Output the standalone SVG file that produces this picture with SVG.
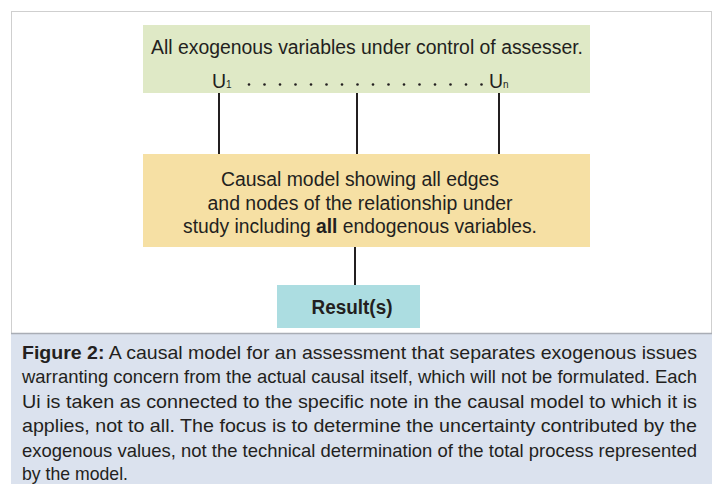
<svg xmlns="http://www.w3.org/2000/svg" width="718" height="484" viewBox="0 0 718 484">
<style>
text { font-family: "Liberation Sans", Arial, sans-serif; fill: #231f20; }
.t { font-size: 19.5px; }
.c { font-size: 19px; }
.b { font-weight: bold; }
.conn line { stroke: #231f20; stroke-width: 2; }
</style>
<rect x="0" y="0" width="718" height="484" fill="#ffffff"/>
<rect x="11.5" y="11.5" width="700" height="480" fill="#ffffff" stroke="#cfcfcf" stroke-width="1"/>
<g id="exogenous">
<rect x="143" y="25" width="447" height="68" fill="#dfe9c6"/>
<text class="t" x="367" y="54" text-anchor="middle" textLength="432" lengthAdjust="spacingAndGlyphs" font-size="20.5">All exogenous variables under control of assesser.</text>
<text class="t" x="212" y="88" font-size="20">U<tspan font-size="10">1</tspan></text>
<text class="t" x="489" y="88" font-size="20">U<tspan font-size="10">n</tspan></text>
<g fill="#231f20">
<circle cx="249" cy="84.5" r="1.3"/><circle cx="264.5" cy="84.5" r="1.3"/><circle cx="280" cy="84.5" r="1.3"/><circle cx="295.5" cy="84.5" r="1.3"/>
<circle cx="311" cy="84.5" r="1.3"/><circle cx="326.5" cy="84.5" r="1.3"/><circle cx="342" cy="84.5" r="1.3"/><circle cx="357.5" cy="84.5" r="1.3"/>
<circle cx="373" cy="84.5" r="1.3"/><circle cx="388.5" cy="84.5" r="1.3"/><circle cx="404" cy="84.5" r="1.3"/><circle cx="419.5" cy="84.5" r="1.3"/>
<circle cx="435" cy="84.5" r="1.3"/><circle cx="450.5" cy="84.5" r="1.3"/><circle cx="466" cy="84.5" r="1.3"/><circle cx="481.5" cy="84.5" r="1.3"/>
</g>
</g>
<g id="connectors" class="conn">
<line x1="219" y1="93" x2="219" y2="154"/>
<line x1="357" y1="93" x2="357" y2="154"/>
<line x1="499" y1="93" x2="499" y2="154"/>
<line x1="355" y1="247" x2="355" y2="285"/>
</g>
<g id="causal-model">
<rect x="143" y="154" width="447" height="93" fill="#f6e0a4"/>
<text class="t" x="360" y="186" text-anchor="middle" textLength="278" lengthAdjust="spacingAndGlyphs">Causal model showing all edges</text>
<text class="t" x="360" y="209.5" text-anchor="middle" textLength="305" lengthAdjust="spacingAndGlyphs">and nodes of the relationship under</text>
<text class="t" x="360" y="233" text-anchor="middle" textLength="354" lengthAdjust="spacingAndGlyphs">study including <tspan class="b">all</tspan> endogenous variables.</text>
</g>
<g id="result">
<rect x="277" y="285" width="143" height="43" fill="#acdde1"/>
<text class="t b" x="352" y="314" text-anchor="middle" font-size="18.5" textLength="81" lengthAdjust="spacingAndGlyphs">Result(s)</text>
</g>
<g id="caption">
<rect x="11" y="333" width="701" height="152" fill="#dbe2ee"/>
<line x1="11" y1="333.5" x2="712" y2="333.5" stroke="#a9adb5" stroke-width="1.5"/>
<text class="c" x="22" y="358.5" textLength="675" lengthAdjust="spacingAndGlyphs"><tspan class="b">Figure 2:</tspan> A causal model for an assessment that separates exogenous issues</text>
<text class="c" x="22" y="383" textLength="675" lengthAdjust="spacingAndGlyphs">warranting concern from the actual causal itself, which will not be formulated. Each</text>
<text class="c" x="22" y="407.5" textLength="675" lengthAdjust="spacingAndGlyphs">Ui is taken as connected to the specific note in the causal model to which it is</text>
<text class="c" x="22" y="432" textLength="675" lengthAdjust="spacingAndGlyphs">applies, not to all. The focus is to determine the uncertainty contributed by the</text>
<text class="c" x="22" y="456.5" textLength="675" lengthAdjust="spacingAndGlyphs">exogenous values, not the technical determination of the total process represented</text>
<text class="c" x="22" y="479.5" textLength="106" lengthAdjust="spacingAndGlyphs">by the model.</text>
</g>
</svg>
